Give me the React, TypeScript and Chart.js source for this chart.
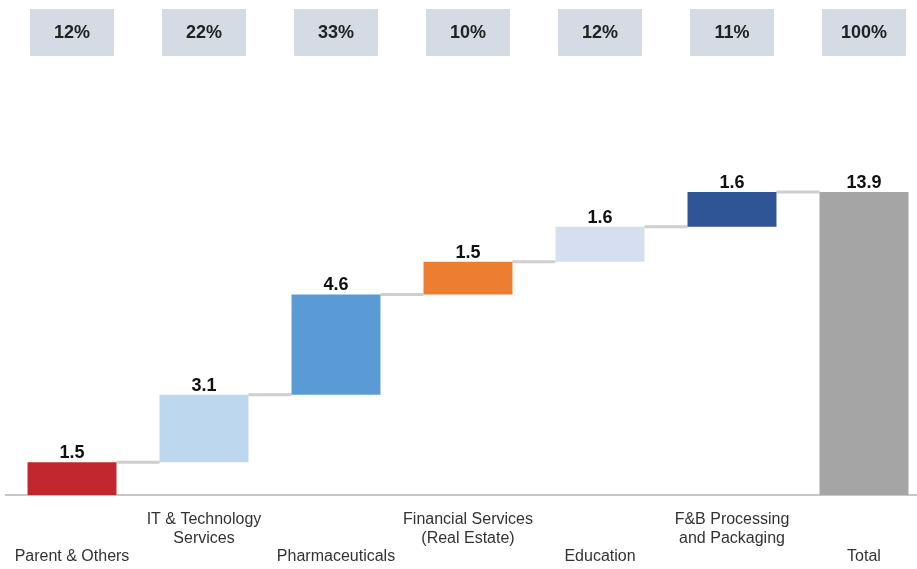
import React, { useEffect, useRef } from "react";
import { Chart, registerables } from "chart.js";

Chart.register(...registerables);

const categories: string[][] = [
  ["Parent & Others"],
  ["IT & Technology", "Services"],
  ["Pharmaceuticals"],
  ["Financial Services", "(Real Estate)"],
  ["Education"],
  ["F&B Processing", "and Packaging"],
  ["Total"],
];
const stepValues: number[] = [1.5, 3.1, 4.6, 1.5, 1.6, 1.6];
const totalValue = 13.9;
const shareLabels: string[] = ["12%", "22%", "33%", "10%", "12%", "11%", "100%"];
const valueLabels: string[] = ["1.5", "3.1", "4.6", "1.5", "1.6", "1.6", "13.9"];
const barColors: string[] = ["#C1272D", "#BDD7EE", "#5B9BD5", "#ED7D31", "#D6DFEF", "#2F5597", "#A5A5A5"];

export default function App() {
  const ref = useRef<HTMLCanvasElement | null>(null);

  useEffect(() => {
    if (!ref.current) return;
    const ranges: [number, number][] = [];
    let acc = 0;
    stepValues.forEach((v) => {
      ranges.push([acc, acc + v]);
      acc += v;
    });
    ranges.push([0, totalValue]);

    const overlay = {
      id: "overlay",
      beforeDatasetsDraw(chart: any) {
        const ctx = chart.ctx;
        const ys = chart.scales.y;
        const meta = chart.getDatasetMeta(0);
        ctx.save();
        ctx.strokeStyle = "#C8C8C8";
        ctx.lineWidth = 2;
        ctx.beginPath();
        ctx.moveTo(5, ys.getPixelForValue(0));
        ctx.lineTo(917, ys.getPixelForValue(0));
        ctx.stroke();
        ctx.lineWidth = 3;
        ctx.strokeStyle = "#CFCFCF";
        for (let i = 0; i < ranges.length - 1; i++) {
          const b = meta.data[i];
          const n = meta.data[i + 1];
          const y = ys.getPixelForValue(ranges[i][1]);
          ctx.beginPath();
          ctx.moveTo(b.x + b.width / 2, y);
          ctx.lineTo(n.x - n.width / 2, y);
          ctx.stroke();
        }
        ctx.restore();
      },
      afterDatasetsDraw(chart: any) {
        const ctx = chart.ctx;
        const xs = chart.scales.x;
        const ys = chart.scales.y;
        ctx.save();
        categories.forEach((lines, i) => {
          const x = xs.getPixelForValue(i);
          ctx.fillStyle = "#D5DBE5";
          ctx.fillRect(x - 42, 9, 84, 47);
          ctx.fillStyle = "#222";
          ctx.font = "bold 18px Arial, 'Liberation Sans', sans-serif";
          ctx.textAlign = "center";
          ctx.textBaseline = "middle";
          ctx.fillText(shareLabels[i], x, 33);
          ctx.font = "bold 18px Arial, 'Liberation Sans', sans-serif";
          ctx.fillStyle = "#111";
          ctx.textBaseline = "alphabetic";
          ctx.fillText(valueLabels[i], x, ys.getPixelForValue(ranges[i][1]) - 4);
          ctx.font = "16px Arial, 'Liberation Sans', sans-serif";
          ctx.fillStyle = "#333";
          ctx.textBaseline = "middle";
          if (lines.length === 1) {
            ctx.fillText(lines[0], x, 557);
          } else {
            ctx.fillText(lines[0], x, 520);
            ctx.fillText(lines[1], x, 539);
          }
        });
        ctx.restore();
      },
    };

    const chart = new Chart(ref.current, {
      type: "bar",
      data: {
        labels: categories.map((c) => c.join(" ")),
        datasets: [
          {
            data: ranges as any,
            backgroundColor: barColors,
            borderWidth: 0,
            categoryPercentage: 1,
            barPercentage: 0.674,
          },
        ],
      },
      options: {
        animation: false,
        responsive: false,
        maintainAspectRatio: false,
        layout: { padding: { top: 59, bottom: 74, left: 6, right: 0 } },
        plugins: { legend: { display: false }, tooltip: { enabled: false } },
        scales: {
          x: { display: false },
          y: { display: false, min: 0, max: 20 },
        },
      },
      plugins: [overlay],
    });
    return () => chart.destroy();
  }, []);

  return (
    <div style={{ position: "fixed", left: 0, top: 0, width: 917, height: 569, overflow: "hidden", background: "#fff" }}>
      <canvas ref={ref} width={930} height={569} style={{ display: "block", width: 930, height: 569 }} />
    </div>
  );
}
